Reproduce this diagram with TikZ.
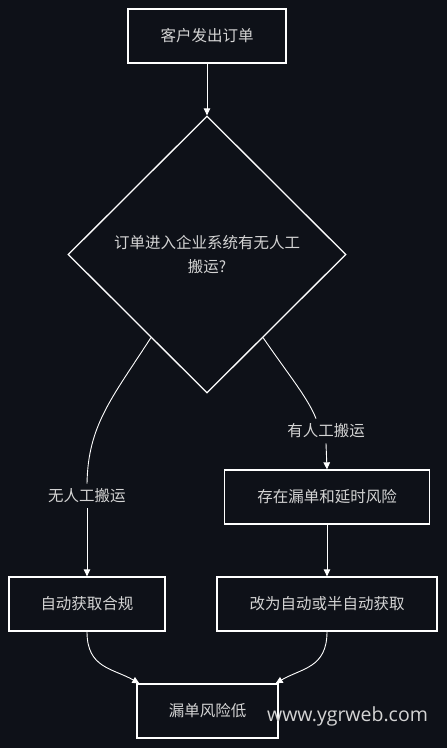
\documentclass[tikz,border=0pt]{standalone}
\usepackage{fontspec}
\usepackage{tikz}
\usetikzlibrary{shapes.geometric,arrows.meta}
\newfontfamily\cjk{Noto Sans CJK SC}
\newfontfamily\wmfont{Open Sans}
\definecolor{bg}{HTML}{0E1118}
\definecolor{ink}{HTML}{D4D4D4}

\begin{document}
\begin{tikzpicture}[x=1pt,y=-1pt,
  box/.style={draw=white,line width=1.3pt,fill=bg,text=ink,minimum height=54pt,inner sep=0pt,font=\cjk\fontsize{15.5}{20}\selectfont},
  lbl/.style={text=ink,inner sep=5pt,font=\cjk\fontsize{15.5}{20}\selectfont},
  line/.style={draw=white,line width=0.9pt},
  arr/.style={line,-{Triangle[length=7pt,width=6.5pt]}}]
\fill[bg] (0,0) rectangle (447,748);

\node[box,minimum width=158pt] (order) at (207,36) {客户发出订单};
\node[box,diamond,minimum width=278pt,minimum height=277pt,align=center,
  font=\cjk\fontsize{15.5}{24}\selectfont] (check) at (207,254.5)
  {订单进入企业系统有无人工\\搬运?};

\node[box,minimum width=156pt] (auto) at (87,604) {自动获取合规};
\node[box,minimum width=205pt] (risk) at (327,497) {存在漏单和延时风险};
\node[box,minimum width=220pt] (semi) at (327,604) {改为自动或半自动获取};
\node[box,minimum width=141pt] (low) at (207.5,711) {漏单风险低};

\node[lbl] (noman) at (87,496) {无人工搬运};
\node[lbl] (man) at (326,431) {有人工搬运};

\draw[arr] (order) -- (check.north);
\draw[line] (check.236) .. controls (112,398) and (88,425) .. (noman.north);
\draw[arr] (noman.south) -- (auto.north);
\draw[line] (check.304) .. controls (288,374) and (308,398) .. (man.north -| 316,0);
\draw[arr] (man.south) -- (risk.north);
\draw[arr] (risk) -- (semi);
\draw[arr] (auto.south) .. controls (87,668) and (112,668) .. ([xshift=3pt]low.north west);
\draw[arr] (semi.south) .. controls (327,668) and (302,668) .. ([xshift=-3pt]low.north east);

\node[text=ink,font=\wmfont\fontsize{19.5}{22}\selectfont] (mark) at (347.5,716) {www.ygrweb.com};
\end{tikzpicture}
\end{document}
